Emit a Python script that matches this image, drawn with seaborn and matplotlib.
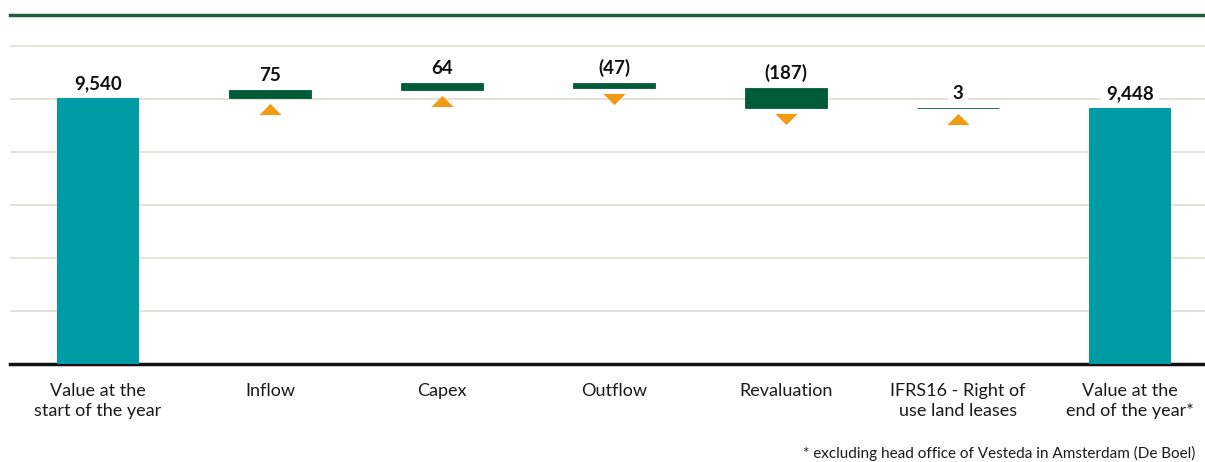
import numpy as np
import matplotlib
matplotlib.use("Agg")
import matplotlib.pyplot as plt
import matplotlib.transforms as mtransforms
import seaborn as sns

# ---- data ----
categories = ["Value at the\nstart of the year", "Inflow", "Capex", "Outflow",
              "Revaluation", "IFRS16 - Right of\nuse land leases", "Value at the\nend of the year*"]
start_value = 9540
changes = [75, 64, -47, -187, 3]
end_value = 9448
value_labels = ["9,540", "75", "64", "(47)", "(187)", "3", "9,448"]
footnote = "* excluding head office of Vesteda in Amsterdam (De Boel)"

TEAL = "#009CA6"
GREEN = "#005B38"
ORANGE = "#F29A12"

# waterfall geometry from the data
cum = [start_value]
for c in changes:
    cum.append(cum[-1] + c)
bottoms = [0]
heights = [start_value]
for i, c in enumerate(changes):
    bottoms.append(min(cum[i], cum[i + 1]))
    heights.append(abs(c))
bottoms.append(0)
heights.append(end_value)
tops = [b + h for b, h in zip(bottoms, heights)]

sns.set_theme(style="white")
plt.rcParams['font.family'] = ['Lato', 'DejaVu Sans']

fig = plt.figure(figsize=(12.05, 4.62), dpi=100)
ax = fig.add_axes([10 / 1205, 98 / 462, 1195 / 1205, 349 / 462])

sns.barplot(x=categories, y=heights, bottom=bottoms, color=TEAL, width=0.477,
            errorbar=None, ax=ax, linewidth=0.6, edgecolor=GREEN, zorder=3)
for i, p in enumerate(ax.patches):
    if i in (0, len(categories) - 1):
        p.set_facecolor(TEAL)
        p.set_edgecolor(TEAL)
        p.set_linewidth(0)
    else:
        p.set_facecolor(GREEN)
        p.set_edgecolor(GREEN)

ymin = 7093
step = 488
ax.set_ylim(ymin, 10304)
ax.set_xlim(-0.512, 6.436)
ax.set_yticks([ymin + step * i for i in range(1, 7)])
ax.set_yticklabels([])
ax.grid(axis='y', color="#DEDED0", linewidth=1.2, zorder=0)
ax.grid(axis='x', visible=False)
ax.set_axisbelow(True)
ax.tick_params(axis='both', length=0)
ax.tick_params(axis='x', pad=14, labelsize=13, labelcolor="#1a1a1a")
for lab in ax.get_xticklabels():
    lab.set_linespacing(1.3)

for s in ("left", "right"):
    ax.spines[s].set_visible(False)
ax.spines["top"].set_color("#1E5E3F")
ax.spines["top"].set_linewidth(2.5)
ax.spines["bottom"].set_color("#111111")
ax.spines["bottom"].set_linewidth(2.5)

# value labels
for i, (t, lab) in enumerate(zip(tops, value_labels)):
    ax.annotate(lab, xy=(i, t), xytext=(0, 4.5), textcoords="offset points",
                ha="center", va="bottom", fontsize=13.5, fontweight="bold",
                color="#111111", zorder=5,
                bbox=dict(boxstyle="square,pad=0.25", fc="white", ec="none"))

# orange direction triangles
up = [(-1, -0.5), (1, -0.5), (0, 0.5), (-1, -0.5)]
down = [(-1, 0.5), (1, 0.5), (0, -0.5), (-1, 0.5)]
off = ax.transData + mtransforms.ScaledTranslation(0, -8 / 72, fig.dpi_scale_trans)
for j, c in enumerate(changes):
    i = j + 1
    ax.plot([i], [bottoms[i]], linestyle="none", marker=up if c > 0 else down,
            markersize=16, color=ORANGE, markeredgewidth=0, transform=off,
            clip_on=False, zorder=4)

fig.text(1195 / 1205, 1 - 453 / 462, footnote, ha="right", va="center",
         fontsize=11, color="#1a1a1a")

fig.savefig("out.png", dpi=100)
